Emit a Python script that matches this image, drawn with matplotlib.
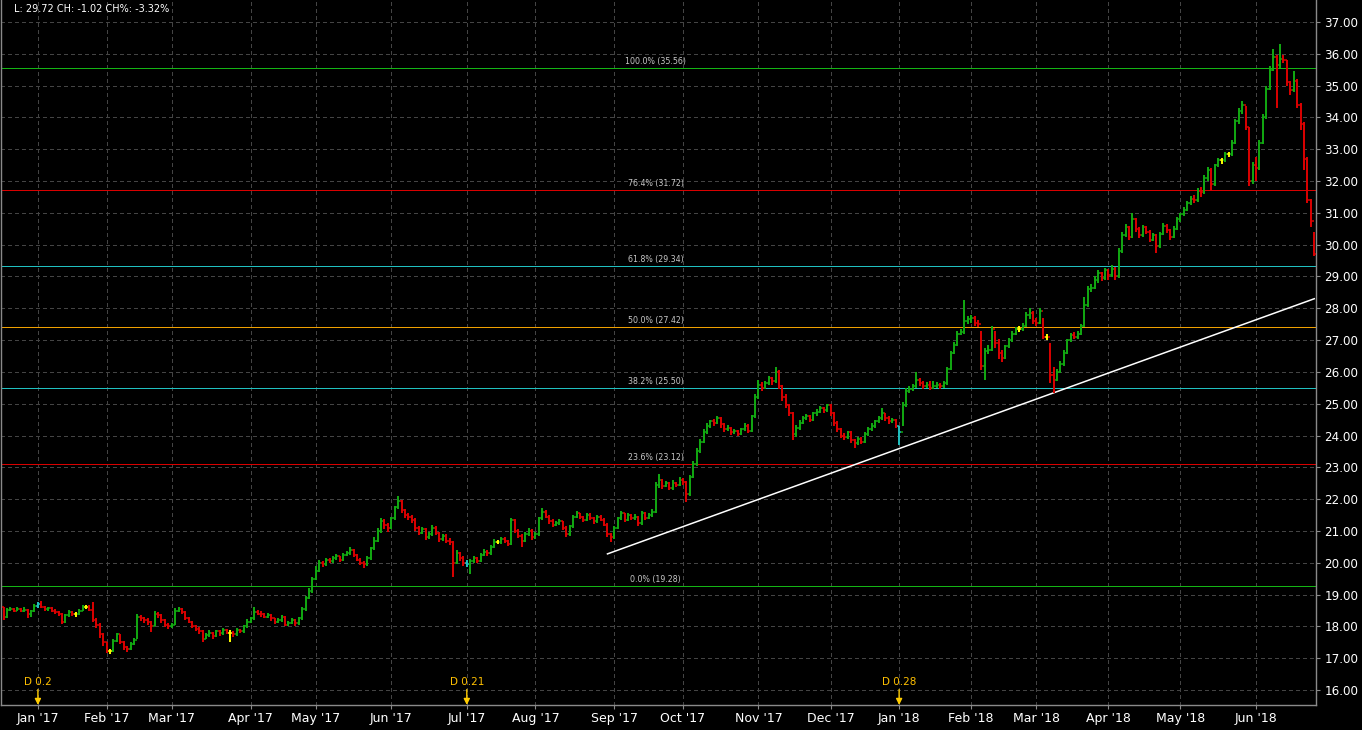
import numpy as np
import pandas as pd
import matplotlib
matplotlib.use('Agg')
import matplotlib.pyplot as plt
import matplotlib.transforms as mtransforms
from matplotlib.collections import LineCollection

# trading calendar (NYSE holidays inside the range)
holidays = ['2016-12-26', '2017-01-02', '2017-01-16', '2017-02-20', '2017-04-14',
            '2017-05-29', '2017-07-04', '2017-09-04', '2017-11-23', '2017-12-25',
            '2018-01-01', '2018-01-15', '2018-02-19', '2018-03-30', '2018-05-28']
dates = pd.bdate_range('2016-12-16', '2018-06-26', freq='C', holidays=holidays)

first_open = 18.60
closes = [
    # Dec 16
    18.30, 18.52, 18.55, 18.50, 18.55, 18.50, 18.52, 18.40, 18.48, 18.65,
    # Jan 17
    18.70, 18.62, 18.55, 18.58, 18.50, 18.45, 18.40, 18.15, 18.35, 18.45,
    18.38, 18.38, 18.50, 18.62, 18.62, 18.52, 18.20, 18.05, 17.75, 17.50,
    # Feb 17
    17.22, 17.22, 17.55, 17.75, 17.50, 17.35, 17.30, 17.45, 17.58, 18.30,
    18.28, 18.20, 18.15, 18.00, 18.40, 18.35, 18.20, 18.05, 18.00,
    # Mar 17
    18.05, 18.50, 18.55, 18.45, 18.25, 18.15, 18.00, 17.92, 17.85, 17.62,
    17.72, 17.80, 17.70, 17.85, 17.78, 17.90, 17.80, 17.80, 17.75, 17.90,
    17.85, 18.00, 18.15,
    # Apr 17
    18.25, 18.45, 18.40, 18.38, 18.30, 18.35, 18.25, 18.15, 18.20, 18.30,
    18.05, 18.12, 18.20, 18.10, 18.25, 18.55, 18.90, 19.10, 19.50,
    # May 17
    19.75, 20.00, 19.95, 20.10, 20.05, 20.15, 20.20, 20.10, 20.25, 20.30,
    20.40, 20.25, 20.10, 20.00, 19.95, 20.15, 20.45, 20.70, 21.00, 21.30,
    21.20, 21.10,
    # Jun 17
    21.40, 21.75, 21.95, 21.65, 21.50, 21.45, 21.35, 21.10, 20.95, 21.05,
    20.80, 20.90, 21.10, 20.95, 20.75, 20.85, 20.70, 20.65, 20.00, 20.30,
    20.15, 20.00,
    # Jul 17
    19.95, 20.05, 20.15, 20.05, 20.25, 20.35, 20.30, 20.50, 20.65, 20.65,
    20.75, 20.70, 20.60, 21.35, 21.00, 20.85, 20.70, 20.90, 21.00, 20.80,
    # Aug 17
    20.90, 21.40, 21.60, 21.45, 21.30, 21.20, 21.25, 21.30, 21.10, 20.90,
    21.15, 21.45, 21.55, 21.45, 21.35, 21.50, 21.40, 21.30, 21.45, 21.35,
    21.20, 20.90, 20.80,
    # Sep 17
    21.10, 21.40, 21.55, 21.35, 21.50, 21.40, 21.45, 21.25, 21.55, 21.40,
    21.50, 21.60, 22.45, 22.60, 22.40, 22.50, 22.35, 22.50, 22.45, 22.60,
    # Oct 17
    22.55, 22.15, 22.70, 23.10, 23.50, 23.80, 24.10, 24.30, 24.45, 24.40,
    24.55, 24.35, 24.20, 24.25, 24.10, 24.15, 24.05, 24.20, 24.30, 24.15,
    24.60, 25.20,
    # Nov 17
    25.60, 25.50, 25.65, 25.80, 25.70, 26.00, 25.55, 25.20, 24.95, 24.70,
    24.05, 24.25, 24.40, 24.55, 24.60, 24.50, 24.70, 24.75, 24.85, 24.80,
    24.95,
    # Dec 17
    24.70, 24.40, 24.20, 24.00, 23.95, 24.10, 23.85, 23.75, 23.90, 23.80,
    24.05, 24.20, 24.30, 24.45, 24.55, 24.70, 24.55, 24.45, 24.50, 24.30,
    # Jan 18
    24.10, 24.95, 25.40, 25.45, 25.55, 25.75, 25.65, 25.55, 25.60, 25.50,
    25.55, 25.60, 25.55, 25.65, 26.10, 26.60, 26.85, 27.20, 27.25, 27.60,
    27.65,
    # Feb 18
    27.70, 27.55, 27.50, 26.20, 26.65, 26.70, 27.35, 26.90, 26.60, 26.45,
    26.80, 27.00, 27.20, 27.35, 27.35, 27.45, 27.80, 27.85, 27.60,
    # Mar 18
    27.55, 27.90, 27.10, 27.10, 25.90, 25.75, 26.00, 26.25, 26.60, 27.00,
    27.15, 27.10, 27.20, 27.45, 28.10, 28.60, 28.65, 28.90, 29.10, 28.95,
    29.20,
    # Apr 18
    29.05, 29.25, 29.00, 29.80, 30.30, 30.55, 30.25, 30.80, 30.50, 30.30,
    30.55, 30.40, 30.15, 30.30, 29.95, 30.35, 30.60, 30.45, 30.25, 30.50,
    30.80,
    # May 18
    30.95, 31.10, 31.30, 31.45, 31.40, 31.70, 31.65, 32.10, 32.35, 31.90,
    32.50, 32.65, 32.65, 32.85, 32.85, 33.20, 33.90, 34.20, 34.40, 33.70,
    32.00, 32.50,
    # Jun 18
    32.40, 33.20, 34.00, 34.90, 35.50, 35.90, 35.65, 35.85, 35.80, 35.10,
    34.85, 35.15, 34.40, 33.80, 32.70, 31.40, 30.74, 29.72,
]
highs = [
    18.62, 18.58, 18.60, 18.58, 18.60, 18.57, 18.60, 18.55, 18.52, 18.70,
    18.78, 18.80, 18.65, 18.62, 18.60, 18.55, 18.50, 18.42, 18.40, 18.52,
    18.48, 18.45, 18.55, 18.66, 18.68, 18.66, 18.78, 18.25, 18.10, 17.80,
    17.50, 17.30, 17.60, 17.80, 17.75, 17.55, 17.40, 17.50, 17.65, 18.38,
    18.35, 18.30, 18.25, 18.18, 18.48, 18.45, 18.38, 18.22, 18.10,
    18.12, 18.58, 18.62, 18.58, 18.48, 18.30, 18.18, 18.05, 17.98, 17.88,
    17.80, 17.88, 17.82, 17.90, 17.88, 17.95, 17.92, 17.88, 17.85, 17.95,
    17.92, 18.05, 18.22,
    18.30, 18.60, 18.52, 18.48, 18.42, 18.42, 18.38, 18.28, 18.28, 18.35,
    18.32, 18.18, 18.25, 18.22, 18.30, 18.60, 18.95, 19.20, 19.55,
    19.90, 20.08, 20.05, 20.15, 20.15, 20.22, 20.28, 20.22, 20.30, 20.38,
    20.50, 20.42, 20.28, 20.15, 20.05, 20.20, 20.50, 20.80, 21.10, 21.40,
    21.38, 21.25,
    21.45, 21.80, 22.10, 21.98, 21.70, 21.58, 21.50, 21.40, 21.15, 21.12,
    21.08, 20.98, 21.20, 21.15, 20.98, 20.92, 20.90, 20.78, 20.70, 20.40,
    20.35, 20.20,
    20.10, 20.12, 20.22, 20.18, 20.30, 20.42, 20.40, 20.55, 20.75, 20.72,
    20.82, 20.80, 20.72, 21.42, 21.38, 21.05, 20.90, 20.98, 21.10, 21.05,
    20.98, 21.45, 21.72, 21.65, 21.50, 21.38, 21.32, 21.38, 21.32, 21.15,
    21.20, 21.50, 21.62, 21.58, 21.48, 21.55, 21.55, 21.45, 21.50, 21.50,
    21.40, 21.25, 20.95,
    21.15, 21.45, 21.62, 21.58, 21.58, 21.52, 21.52, 21.48, 21.62, 21.60,
    21.58, 21.70, 22.55, 22.80, 22.62, 22.58, 22.55, 22.60, 22.55, 22.70,
    22.65, 22.58, 22.75, 23.20, 23.60, 23.90, 24.20, 24.40, 24.50, 24.52,
    24.62, 24.58, 24.40, 24.32, 24.28, 24.22, 24.18, 24.25, 24.38, 24.35,
    24.65, 25.30,
    25.75, 25.68, 25.72, 25.88, 25.85, 26.15, 26.05, 25.60, 25.30, 25.00,
    24.75, 24.32, 24.48, 24.60, 24.68, 24.65, 24.75, 24.82, 24.92, 24.90,
    25.00,
    24.98, 24.75, 24.45, 24.25, 24.08, 24.15, 24.15, 23.90, 23.95, 23.95,
    24.10, 24.28, 24.40, 24.50, 24.62, 24.88, 24.72, 24.60, 24.55, 24.52,
    24.30, 25.05, 25.50, 25.55, 25.62, 26.00, 25.80, 25.72, 25.68, 25.70,
    25.72, 25.68, 25.65, 25.72, 26.15, 26.65, 26.95, 27.30, 27.35, 28.25,
    27.75,
    27.80, 27.75, 27.62, 27.30, 26.75, 26.85, 27.45, 27.30, 27.05, 26.70,
    26.85, 27.08, 27.28, 27.42, 27.45, 27.55, 27.88, 28.00, 27.90,
    27.70, 28.00, 27.70, 27.20, 26.90, 26.15, 26.10, 26.35, 26.70, 27.05,
    27.22, 27.25, 27.28, 27.52, 28.35, 28.70, 28.75, 29.00, 29.20, 29.15,
    29.28,
    29.25, 29.35, 29.30, 29.88, 30.40, 30.65, 30.60, 31.00, 30.85, 30.55,
    30.62, 30.60, 30.45, 30.38, 30.35, 30.40, 30.68, 30.65, 30.50, 30.58,
    30.88,
    31.00, 31.18, 31.38, 31.52, 31.55, 31.78, 31.80, 32.18, 32.45, 32.40,
    32.55, 32.72, 32.72, 32.90, 32.92, 33.30, 33.95, 34.30, 34.50, 34.35,
    33.70, 32.60,
    32.75, 33.30, 34.10, 35.00, 35.60, 36.15, 35.95, 36.30, 35.95, 35.80,
    35.15, 35.45, 35.20, 34.45, 33.85, 32.75, 31.45, 30.40,
]
lows = [
    18.20, 18.28, 18.48, 18.45, 18.47, 18.44, 18.46, 18.25, 18.30, 18.45,
    18.58, 18.58, 18.50, 18.50, 18.45, 18.40, 18.33, 18.08, 18.12, 18.30,
    18.32, 18.30, 18.36, 18.48, 18.55, 18.48, 18.15, 17.95, 17.65, 17.40,
    17.15, 17.12, 17.20, 17.50, 17.45, 17.25, 17.20, 17.25, 17.42, 17.62,
    18.18, 18.10, 18.05, 17.82, 18.00, 18.25, 18.10, 17.98, 17.92,
    17.95, 18.05, 18.45, 18.40, 18.20, 18.10, 17.95, 17.85, 17.75, 17.50,
    17.60, 17.68, 17.62, 17.68, 17.70, 17.72, 17.75, 17.50, 17.68, 17.70,
    17.78, 17.80, 17.95,
    18.10, 18.20, 18.35, 18.30, 18.25, 18.25, 18.18, 18.08, 18.10, 18.15,
    18.00, 18.00, 18.08, 18.02, 18.05, 18.20, 18.50, 18.85, 19.05,
    19.45, 19.70, 19.88, 19.90, 19.98, 20.00, 20.10, 20.02, 20.05, 20.20,
    20.25, 20.18, 20.05, 19.92, 19.85, 19.90, 20.10, 20.40, 20.65, 20.95,
    21.05, 20.98,
    21.05, 21.35, 21.70, 21.55, 21.40, 21.35, 21.25, 21.00, 20.88, 20.90,
    20.72, 20.75, 20.85, 20.88, 20.65, 20.68, 20.62, 20.55, 19.55, 19.95,
    20.05, 19.90,
    19.88, 19.65, 19.98, 20.00, 20.02, 20.20, 20.22, 20.25, 20.45, 20.58,
    20.60, 20.62, 20.52, 20.55, 20.95, 20.78, 20.50, 20.65, 20.85, 20.72,
    20.75, 20.85, 21.35, 21.40, 21.22, 21.12, 21.15, 21.20, 21.02, 20.82,
    20.85, 21.10, 21.40, 21.38, 21.28, 21.30, 21.35, 21.22, 21.25, 21.30,
    21.15, 20.82, 20.65,
    20.75, 21.05, 21.35, 21.28, 21.30, 21.35, 21.35, 21.15, 21.20, 21.35,
    21.38, 21.45, 21.55, 22.35, 22.32, 22.38, 22.28, 22.30, 22.38, 22.40,
    22.45, 21.90, 22.10, 22.65, 23.05, 23.45, 23.75, 24.05, 24.25, 24.30,
    24.35, 24.25, 24.12, 24.15, 24.02, 24.05, 23.98, 24.02, 24.15, 24.08,
    24.10, 24.55,
    25.15, 25.40, 25.45, 25.60, 25.60, 25.65, 25.45, 25.10, 24.85, 24.60,
    23.85, 23.95, 24.18, 24.35, 24.50, 24.42, 24.45, 24.62, 24.70, 24.72,
    24.75,
    24.62, 24.30, 24.12, 23.92, 23.85, 23.90, 23.78, 23.62, 23.70, 23.72,
    23.78, 24.00, 24.15, 24.25, 24.40, 24.50, 24.45, 24.35, 24.40, 24.25,
    23.70, 24.30, 24.90, 25.35, 25.40, 25.50, 25.55, 25.45, 25.48, 25.42,
    25.45, 25.48, 25.45, 25.50, 25.60, 26.05, 26.55, 26.80, 27.15, 27.20,
    27.50,
    27.55, 27.45, 27.40, 26.05, 25.75, 26.55, 26.65, 26.75, 26.40, 26.30,
    26.40, 26.75, 26.95, 27.15, 27.25, 27.30, 27.40, 27.65, 27.50,
    27.45, 27.50, 27.05, 27.00, 25.65, 25.35, 25.70, 25.95, 26.20, 26.55,
    26.95, 27.02, 27.05, 27.15, 27.40, 28.05, 28.50, 28.60, 28.80, 28.85,
    28.90,
    28.90, 28.98, 28.90, 28.95, 29.75, 30.25, 30.15, 30.20, 30.40, 30.20,
    30.25, 30.32, 30.08, 30.10, 29.75, 29.90, 30.30, 30.38, 30.15, 30.20,
    30.45,
    30.70, 30.90, 31.05, 31.25, 31.30, 31.35, 31.50, 31.60, 32.00, 31.70,
    31.85, 32.45, 32.55, 32.60, 32.75, 32.80, 33.15, 33.80, 34.10, 33.60,
    31.85, 31.90,
    32.00, 32.35, 33.15, 33.95, 34.85, 35.45, 34.30, 35.55, 35.70, 35.00,
    34.70, 34.80, 34.30, 33.60, 32.35, 31.30, 30.55, 29.65,
]

# fibonacci retracement
fib_pcts = [0.0, 23.6, 38.2, 50.0, 61.8, 76.4, 100.0]
fib_vals = [19.28, 23.12, 25.50, 27.42, 29.34, 31.72, 35.56]
fib_colors = ['#14b414', '#d80000', '#20c0c0', '#f0a000', '#20c0c0', '#d80000', '#14b414']

# trend line
trend_dates = ['2017-08-30', '2018-06-26']
trend_vals = [20.28, 28.30]

# dividends
div_dates = ['2017-01-03', '2017-07-03', '2018-01-02']
div_amts = [0.2, 0.21, 0.28]

n = len(dates)
assert len(closes) == n and len(highs) == n and len(lows) == n, (n, len(closes), len(highs), len(lows))
x = np.arange(n)
pos = {d.strftime('%Y-%m-%d'): i for i, d in enumerate(dates)}

opens = [first_open] + closes[:-1]
div_idx = [pos[d] for d in div_dates]
cols = []
for i in range(n):
    if i in div_idx:
        cols.append('#20c0c0')
    elif round(closes[i], 2) > round(opens[i], 2):
        cols.append('#12aa12')
    elif round(closes[i], 2) < round(opens[i], 2):
        cols.append('#dc0000')
    else:
        cols.append('#ffff00')

fig = plt.figure(figsize=(13.62, 7.30), dpi=100, facecolor='black')
ax = fig.add_axes([1/1362, 25/730, 1315/1362, 705/730], facecolor='black')
ax.set_xlim(-0.76, n - 0.5)
ax.set_ylim(15.53, 37.69)

# grid
grid_kw = dict(color='#444444', lw=0.6, linestyle=(0, (4, 4)), zorder=0, antialiased=False)
for yv in range(16, 38):
    ax.axhline(yv, **grid_kw)

month_start = [i for i in range(1, n) if dates[i].month != dates[i - 1].month]
for i in month_start:
    ax.axvline(i, **grid_kw)

# fib lines
for p, v, c in zip(fib_pcts, fib_vals, fib_colors):
    ax.axhline(v, color=c, lw=0.6, zorder=1, antialiased=False)
    ax.annotate('%.1f%% (%.2f)' % (p, v), xy=(190, v), xytext=(0, 1.2),
                textcoords='offset points', ha='center', va='bottom',
                color='#c8c8c8', fontsize=5.7, zorder=2)

# trend line
tx = [pos[d] for d in trend_dates]
ax.plot(tx, trend_vals, color='white', lw=1.1, zorder=3)

# OHLC bars
vsegs = [[(x[i], lows[i]), (x[i], highs[i])] for i in range(n)]
osegs = [[(x[i] - 0.5, opens[i]), (x[i], opens[i])] for i in range(n)]
csegs = [[(x[i], closes[i]), (x[i] + 0.5, closes[i])] for i in range(n)]
ax.add_collection(LineCollection(vsegs, colors=cols, linewidths=1.4, zorder=4))
ax.add_collection(LineCollection(osegs + csegs, colors=cols + cols, linewidths=1.1, zorder=4))

# dividend markers
trans = mtransforms.blended_transform_factory(ax.transData, ax.transAxes)
for i, a in zip(div_idx, div_amts):
    ax.annotate('', xy=(i, 0.0), xycoords=trans, xytext=(i, 0.022), textcoords=trans,
                arrowprops=dict(arrowstyle='-|>', color='#ffcc00', lw=1.0,
                                mutation_scale=9, shrinkA=0, shrinkB=0), zorder=5)
    ax.text(i, 0.026, 'D %g' % a, transform=trans, ha='center', va='bottom',
            color='#ffc000', fontsize=7.5, zorder=5)

# axes styling
ax.spines['top'].set_visible(False)
for s in ['left', 'right', 'bottom']:
    ax.spines[s].set_color('#8a8a8a')
    ax.spines[s].set_linewidth(1.0)

ax.yaxis.tick_right()
ax.set_yticks(range(16, 38))
ax.set_yticklabels(['%.2f' % v for v in range(16, 38)])
ax.tick_params(axis='y', colors='#8a8a8a', labelcolor='white', labelsize=8.6, length=3, pad=3)
ax.set_xticks(month_start)
ax.set_xticklabels([dates[i].strftime("%b '%y") for i in month_start])
ax.tick_params(axis='x', colors='#8a8a8a', labelcolor='white', labelsize=9, length=3, pad=2)

chg = closes[-1] - closes[-2]
fig.text(14/1362, 1 - 9/730, 'L: %.2f CH: %.2f CH%%: %.2f%%' % (closes[-1], chg, chg / closes[-2] * 100),
         color='white', fontsize=7, ha='left', va='center')

fig.savefig('out.png', dpi=100, facecolor='black')
